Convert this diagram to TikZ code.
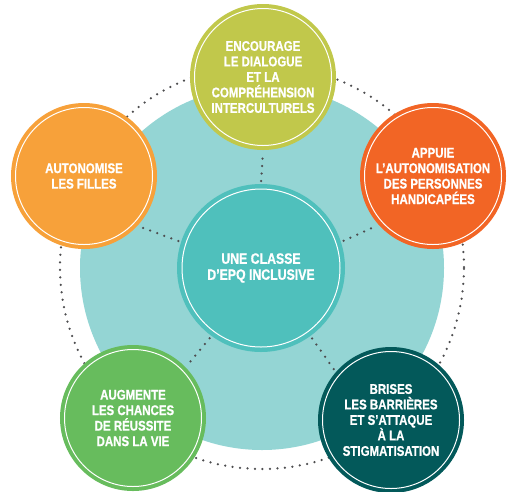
\documentclass[tikz,border=0pt]{standalone}
\usepackage{fontspec}
\newfontfamily\labfont[FakeStretch=0.82, BoldFeatures={FakeBold=0.8}]{Liberation Sans}
\usepackage{tikz}
\definecolor{pale}{HTML}{94D5D4}
\definecolor{hubteal}{HTML}{4FC0BC}
\definecolor{olive}{HTML}{C1C84B}
\definecolor{apricot}{HTML}{F7A13A}
\definecolor{vermil}{HTML}{F26525}
\definecolor{leaf}{HTML}{67BC5D}
\definecolor{deepteal}{HTML}{03595A}
\definecolor{dotgray}{HTML}{4D4D4F}
\tikzset{
    bubble/.style={circle, minimum size=137pt, inner sep=0pt, outer sep=4.5pt, line width=4pt,
        double=white, double distance=1pt, text=white, align=center,
        font=\labfont\bfseries\fontsize{14}{15.5}\selectfont},
    hubble/.style={bubble, minimum size=158pt, outer sep=5pt, line width=4.5pt,
        font=\labfont\bfseries\fontsize{15}{16}\selectfont},
    spoke/.style={draw=dotgray, line width=2.5pt, line cap=round, dash pattern=on 0pt off 7.5pt}
}

\begin{document}
\begin{tikzpicture}[x=1pt, y=1pt]
                \useasboundingbox (0,0) rectangle (508,-491);
                \draw[spoke] (262,-267) circle (202pt);
                \fill[pale] (262,-268) circle (182pt);
                \node[hubble, draw=hubteal, fill=hubteal] (hub) at (261,-268) {UNE CLASSE\\D’EPQ INCLUSIVE};
                \node[bubble, draw=olive, fill=olive] (dialogue) at (263,-77) {ENCOURAGE\\LE DIALOGUE\\ET LA\\COMPRÉHENSION\\INTERCULTURELS};
                \node[bubble, draw=apricot, fill=apricot] (filles) at (84,-176) {AUTONOMISE\\LES FILLES};
                \node[bubble, draw=vermil, fill=vermil] (handicap) at (433,-176) {APPUIE\\L’AUTONOMISATION\\DES PERSONNES\\HANDICAPÉES};
                \node[bubble, draw=leaf, fill=leaf] (reussite) at (133,-418) {AUGMENTE\\LES CHANCES\\DE RÉUSSITE\\DANS LA VIE};
                \node[bubble, draw=deepteal, fill=deepteal] (barrieres) at (391,-420) {BRISES\\LES BARRIÈRES\\ET S’ATTAQUE\\À LA\\STIGMATISATION};
                \draw[spoke, shorten <=3pt, shorten >=3pt] (hub.90) -- (dialogue.270);
                \draw[spoke, shorten <=3pt, shorten >=3pt] (hub.162) -- (filles.317);
                \draw[spoke, shorten <=3pt, shorten >=3pt] (hub.18) -- (handicap.222);
                \draw[spoke, shorten <=3pt, shorten >=3pt] (hub.234) -- (reussite.44);
                \draw[spoke, shorten <=3pt, shorten >=3pt] (hub.306) -- (barrieres.139);
            \end{tikzpicture}
\end{document}
